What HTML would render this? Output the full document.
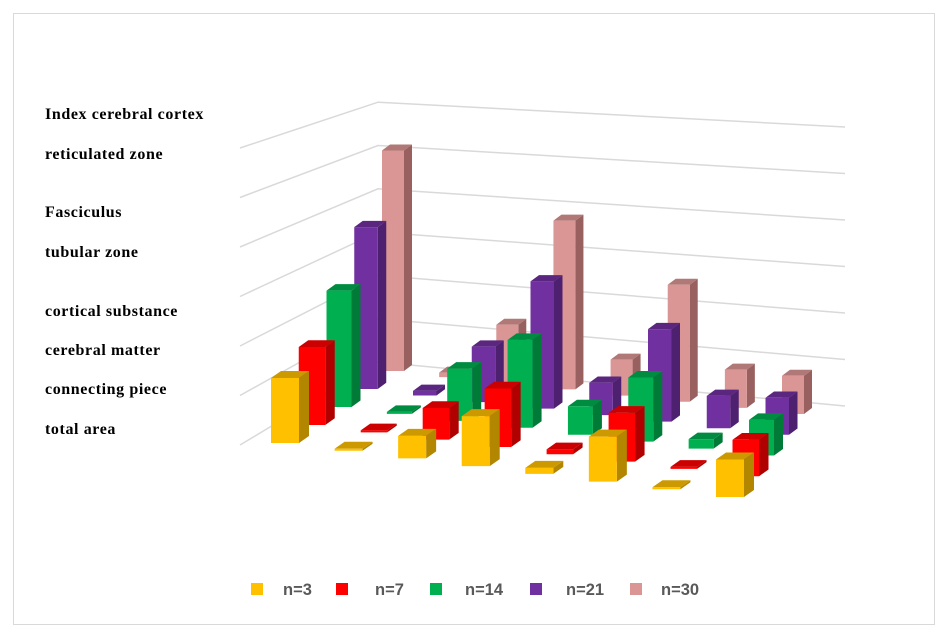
<!DOCTYPE html>
<html><head><meta charset="utf-8"><style>
body{margin:0;background:#fff;width:946px;height:639px;overflow:hidden}
svg{display:block}
.lab{font-family:"Liberation Serif",serif;font-weight:bold;font-size:16px;letter-spacing:0.6px;fill:#000}
.leg{font-family:"Liberation Sans",sans-serif;font-weight:bold;font-size:16.5px;fill:#595959}
</style></head><body>
<svg id="chart" width="946" height="639" xmlns="http://www.w3.org/2000/svg">
<rect x="13.5" y="13.5" width="921" height="611" fill="#fff" stroke="#d9d9d9"/>
<g id="grid"></g>
<g id="bars"></g>
<g>
<text class="lab" x="45" y="119">Index cerebral cortex</text>
<text class="lab" x="45" y="159">reticulated zone</text>
<text class="lab" x="45" y="217">Fasciculus</text>
<text class="lab" x="45" y="257">tubular zone</text>
<text class="lab" x="45" y="316">cortical substance</text>
<text class="lab" x="45" y="355">cerebral matter</text>
<text class="lab" x="45" y="394">connecting piece</text>
<text class="lab" x="45" y="434">total area</text>
</g>
<g id="legend"></g>
</svg>
<script>
const categories = ["c1","c2","c3","c4","c5","c6","c7","c8"];
const seriesNames = ["n=3","n=7","n=14","n=21","n=30"];
const s_n3  = [1.3, 0.0, 0.45, 1.0, 0.12, 0.9, 0.0, 0.75];
const s_n7  = [1.6, 0.0, 0.65, 1.2, 0.1, 1.0, 0.0, 0.75];
const s_n14 = [2.45, 0.0, 1.1, 1.85, 0.6, 1.35, 0.2, 0.75];
const s_n21 = [3.5, 0.1, 1.2, 2.75, 0.7, 2.0, 0.7, 0.8];
const s_n30 = [4.9, 0.1, 1.3, 3.75, 0.8, 2.6, 0.85, 0.85];
const gridTicks = [0,1,2,3,4,5,6];

const seriesVals=[s_n3,s_n7,s_n14,s_n21,s_n30];
const colors=[["#FFC000","#CC9A00","#B38600"],["#FF0000","#CC0000","#B00000"],["#00B050","#008C40","#007A37"],["#7030A0","#5A2680","#4E2170"],["#DA9694","#B07876","#98615F"]];
const NS="http://www.w3.org/2000/svg";
const C00=[285,443],C70=[730,497],C04=[393,371],C74=[793,414];
function floorPt(i,k){const u=i/(categories.length-1),v=k/(seriesNames.length-1);
 const a=[C00[0]+(C70[0]-C00[0])*u,C00[1]+(C70[1]-C00[1])*u];
 const b=[C04[0]+(C74[0]-C04[0])*u,C04[1]+(C74[1]-C04[1])*u];
 return [a[0]+(b[0]-a[0])*v,a[1]+(b[1]-a[1])*v];}
function hScale(k){return 50-5*k/(seriesNames.length-1);}
function poly(g,pts,fill,name){const p=document.createElementNS(NS,"polygon");
 p.setAttribute("points",pts.map(q=>q.join(",")).join(" "));p.setAttribute("fill",fill);
 
 
 g.appendChild(p);}
const grid=document.getElementById("grid");
gridTicks.forEach(t=>{
 const y0=445-t*49.5, y1=362-t*43.3, y2=406-t*46.5;
 const pl=document.createElementNS(NS,"polyline");
 pl.setAttribute("points",`240,${y0} 378,${y1} 845,${y2}`);
 pl.setAttribute("fill","none");pl.setAttribute("stroke","#d9d9d9");pl.setAttribute("stroke-width","1.5");
 
 
 grid.appendChild(pl);});
const bars=document.getElementById("bars");
for(let k=seriesNames.length-1;k>=0;k--){
 const w=28-6*k/4, dx=10-2*k/4, dy=-7+1*k/4;
 for(let i=0;i<categories.length;i++){
  const [cx,cy]=floorPt(i,k);const h=Math.max(seriesVals[k][i]*hScale(k),2);
  const L=cx-w/2,R=cx+w/2,T=cy-h;
  const g=document.createElementNS(NS,"g");
  
  
  const c=colors[k];
  poly(g,[[R,cy],[R+dx,cy+dy],[R+dx,T+dy],[R,T]],c[2],'bar-side');
  poly(g,[[L,T],[R,T],[R+dx,T+dy],[L+dx,T+dy]],c[1],'bar-top');
  poly(g,[[L,cy],[R,cy],[R,T],[L,T]],c[0],'bar-front');
  bars.appendChild(g);}}
const leg=document.getElementById("legend");
const lx=[251,336,430,530,630], tx=[283,375,465,566,661];
seriesNames.forEach((n,k)=>{
 const r=document.createElementNS(NS,"rect");
 r.setAttribute("x",lx[k]);r.setAttribute("y",583);r.setAttribute("width",12);r.setAttribute("height",12);r.setAttribute("fill",colors[k][0]);
 
 
 leg.appendChild(r);
 const t=document.createElementNS(NS,"text");
 t.setAttribute("x",tx[k]);t.setAttribute("y",595);t.setAttribute("class","leg");t.textContent=n;
 
 
 leg.appendChild(t);});
</script>
</body></html>
